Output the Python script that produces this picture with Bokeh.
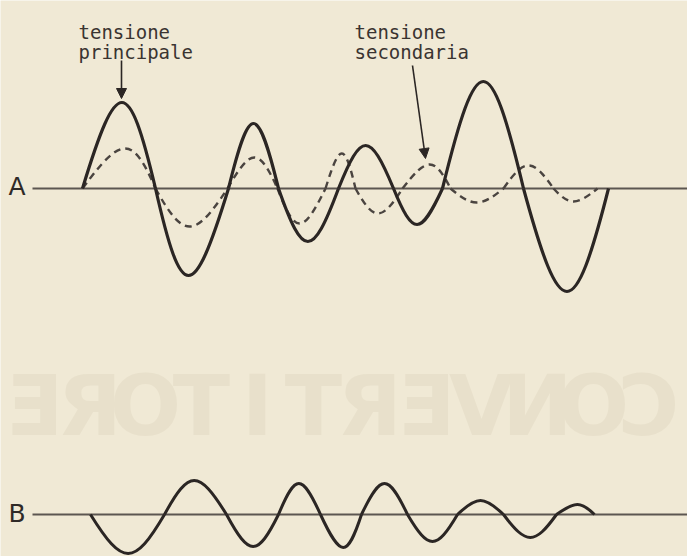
from bokeh.plotting import figure
from bokeh.models import Range1d, Arrow, NormalHead, ColumnDataSource
from bokeh.core.properties import value
from bokeh.embed import file_html
from bokeh.resources import INLINE

# ---------------- data (pixel-like units) ----------------
base_a = 188
base_b = 514

# solid curve ("tensione principale"): zero crossings and extremes
solid_cross = [82, 155, 228, 278, 338, 393, 442, 523, 608]
solid_peak_x = [123, 186, 253, 307, 365, 416, 483, 567]
solid_peak_y = [102, 275, 123, 241, 145, 224, 81, 291]

# dashed curve ("tensione secondaria")
dash_cross = [82, 155, 227, 277, 325, 355, 402, 450, 503, 553, 597]
dash_peak_x = [128, 188, 255, 298, 342, 377, 431, 476, 528, 572]
dash_peak_y = [148, 226, 157, 223, 153, 213, 164, 202, 165, 201]

# trace B (difference signal)
b_cross = [90, 164, 226, 278, 320, 361, 407, 457, 503, 556, 594]
b_peak_x = [128, 193, 253, 298, 344, 384, 432, 480, 530, 578]
b_peak_y = [553, 480, 546, 483, 547, 483, 541, 500, 537, 504]

labels_main = ["tensione", "principale"]
labels_sec = ["tensione", "secondaria"]
trace_names = ["A", "B"]
watermark_letters = ["Ǝ", "Я", "O", "T", "I", "T", "Я", "Ǝ", "V", "И", "O", "Ɔ"]

BG = "#f0e9d5"
INK = "#2b2624"
RULE = "#5c5651"


def lobes(cross, px, py, base):
    x0, y0, x1, y1, cx0, cy0, cx1, cy1 = [], [], [], [], [], [], [], []
    for i in range(len(px)):
        a, b = cross[i], cross[i + 1]
        amp = (py[i] - base) * 4.0 / 3.0
        x0.append(a); y0.append(base)
        x1.append(b); y1.append(base)
        cx0.append(a + 0.85 * (px[i] - a)); cy0.append(base + amp)
        cx1.append(b - 0.85 * (b - px[i])); cy1.append(base + amp)
    return ColumnDataSource(dict(x0=x0, y0=y0, x1=x1, y1=y1,
                                 cx0=cx0, cy0=cy0, cx1=cx1, cy1=cy1))


p = figure(width=687, height=556, output_backend="svg", toolbar_location=None,
           x_range=Range1d(0, 687), y_range=Range1d(556, 0),
           min_border=0, background_fill_color=BG, border_fill_color=BG)
p.axis.visible = False
p.grid.visible = False
p.outline_line_color = None

# faint show-through lettering (mirrored word from the back of the page)
wm_x = [33 + 56 * i for i in range(len(watermark_letters))]
p.text(x=wm_x, y=[405] * len(wm_x), text=watermark_letters,
       text_font=value("DejaVu Sans"), text_font_style="bold",
       text_font_size=value("84px"), text_align="center", text_baseline="middle",
       text_color="#e8e0cb")

# baselines
p.segment(x0=[32, 32], y0=[base_a, base_b], x1=[690, 690], y1=[base_a, base_b],
          line_color=RULE, line_width=1.8)

# curves
kw = dict(x0="x0", y0="y0", x1="x1", y1="y1", cx0="cx0", cy0="cy0", cx1="cx1", cy1="cy1")
p.bezier(source=lobes(dash_cross, dash_peak_x, dash_peak_y, base_a),
         line_color="#4a4440", line_width=2.4, line_dash="7 5", **kw)
p.bezier(source=lobes(solid_cross, solid_peak_x, solid_peak_y, base_a),
         line_color=INK, line_width=3.2, **kw)
p.bezier(source=lobes(b_cross, b_peak_x, b_peak_y, base_b),
         line_color=INK, line_width=3.0, **kw)

# trace labels
p.text(x=[8, 8], y=[186, 513], text=trace_names, text_font=value("DejaVu Sans"),
       text_font_size=value("25px"), text_baseline="middle", text_color="#2f2a27")

# annotation texts
p.text(x=[78, 78], y=[31, 51], text=labels_main, text_font=value("DejaVu Sans Mono"),
       text_font_size=value("19px"), text_baseline="alphabetic", text_color="#3a3431")
p.text(x=[354, 354], y=[31, 51], text=labels_sec, text_font=value("DejaVu Sans Mono"),
       text_font_size=value("19px"), text_baseline="alphabetic", text_color="#3a3431")

# arrows
p.add_layout(Arrow(end=NormalHead(size=10, fill_color=INK, line_color=INK),
                   x_start=121, y_start=60, x_end=121, y_end=98,
                   line_color=INK, line_width=1.6))
p.add_layout(Arrow(end=NormalHead(size=10, fill_color=INK, line_color=INK),
                   x_start=412, y_start=65, x_end=425, y_end=158,
                   line_color=INK, line_width=1.6))

html = file_html(p, INLINE)
html = html.replace("<body>", '<body style="background:%s;">' % BG, 1)
open("out.html", "w").write(html)
